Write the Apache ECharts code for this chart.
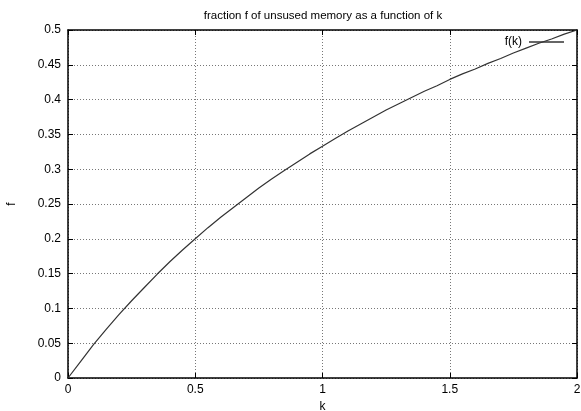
<!DOCTYPE html>
<html>
<head>
<meta charset="utf-8">
<script src="https://cdn.jsdelivr.net/npm/echarts@6/dist/echarts.min.js"></script>
<style>
  html, body { margin: 0; padding: 0; background: #fff; }
  #chart { width: 581px; height: 411px; }
</style>
</head>
<body>
<div id="chart"></div>
<script>
// values
var kValues = [0, 0.05, 0.1, 0.15, 0.2, 0.25, 0.3, 0.35, 0.4, 0.45, 0.5, 0.55, 0.6, 0.65,
  0.7, 0.75, 0.8, 0.85, 0.9, 0.95, 1.0, 1.05, 1.1, 1.15, 1.2, 1.25, 1.3, 1.35,
  1.4, 1.45, 1.5, 1.55, 1.6, 1.65, 1.7, 1.75, 1.8, 1.85, 1.9, 1.95, 2.0];
var fValues = [0, 0.024, 0.048, 0.07, 0.091, 0.111, 0.13, 0.149, 0.167, 0.184, 0.2, 0.216,
  0.231, 0.245, 0.259, 0.273, 0.286, 0.298, 0.31, 0.322, 0.333, 0.344, 0.355, 0.365,
  0.375, 0.385, 0.394, 0.403, 0.412, 0.42, 0.429, 0.437, 0.444, 0.452, 0.459, 0.467,
  0.474, 0.481, 0.487, 0.494, 0.5];
var seriesName = "f(k)";
var titleText = "fraction f of unsused memory as a function of k";

var font = "Liberation Sans, Arial, sans-serif";
var myChart = echarts.init(document.getElementById("chart"));

var points = kValues.map(function (k, i) {
  return [k, fValues[i]];
});

// mirrored axes (top / right) only draw ticks, like gnuplot
function axisBase(extra) {
  var a = {
    type: "value",
    axisLine: { show: true, onZero: false, lineStyle: { color: "#000", width: 1.5 } },
    axisTick: { show: true, inside: true, length: 5, lineStyle: { color: "#000", width: 1 } },
    axisLabel: { show: false },
    splitLine: { show: false },
  };
  return Object.assign(a, extra);
}

var option = {
  animation: false,
  backgroundColor: "#fff",
  title: {
    text: titleText,
    left: 318,
    textAlign: "center",
    top: 5,
    textStyle: { fontFamily: font, fontSize: 11.5, fontWeight: "normal", color: "#000" },
  },
  grid: { left: 68, right: 4, top: 30, bottom: 33, outerBoundsMode: "none", containLabel: false },
  legend: {
    right: 12,
    top: 31,
    align: "right",
    icon: "rect",
    itemWidth: 35,
    itemHeight: 1.5,
    itemGap: 6,
    textStyle: { fontFamily: font, fontSize: 12, color: "#000", padding: [0, 2, 0, 0] },
    data: [seriesName],
  },
  xAxis: [
    axisBase({
      min: 0, max: 2, interval: 0.5,
      position: "bottom",
      name: "k",
      nameLocation: "middle",
      nameGap: 22,
      nameTextStyle: { fontFamily: font, fontSize: 12, color: "#000" },
      axisLabel: { show: true, margin: 6, fontFamily: font, fontSize: 12, color: "#000" },
      splitLine: { show: true, lineStyle: { color: "#777", type: [1, 2], width: 1 } },
    }),
    axisBase({ min: 0, max: 2, interval: 0.5, position: "top" }),
  ],
  yAxis: [
    axisBase({
      min: 0, max: 0.5, interval: 0.05,
      position: "left",
      name: "f",
      nameLocation: "middle",
      nameGap: 50,
      nameRotate: 90,
      nameTextStyle: { fontFamily: font, fontSize: 12, color: "#000" },
      axisLabel: { show: true, margin: 7, fontFamily: font, fontSize: 12, color: "#000",
        formatter: function (v) { return String(Math.round(v * 100) / 100); } },
      splitLine: { show: true, lineStyle: { color: "#777", type: [1, 2], width: 1 } },
    }),
    axisBase({ min: 0, max: 0.5, interval: 0.05, position: "right" }),
  ],
  series: [
    {
      name: seriesName,
      type: "line",
      data: points,
      smooth: false,
      showSymbol: false,
      symbol: "none",
      lineStyle: { color: "#333", width: 1.2 },
      itemStyle: { color: "#333" },
      z: 5,
    },
  ],
};
myChart.setOption(option);
</script>
</body>
</html>
